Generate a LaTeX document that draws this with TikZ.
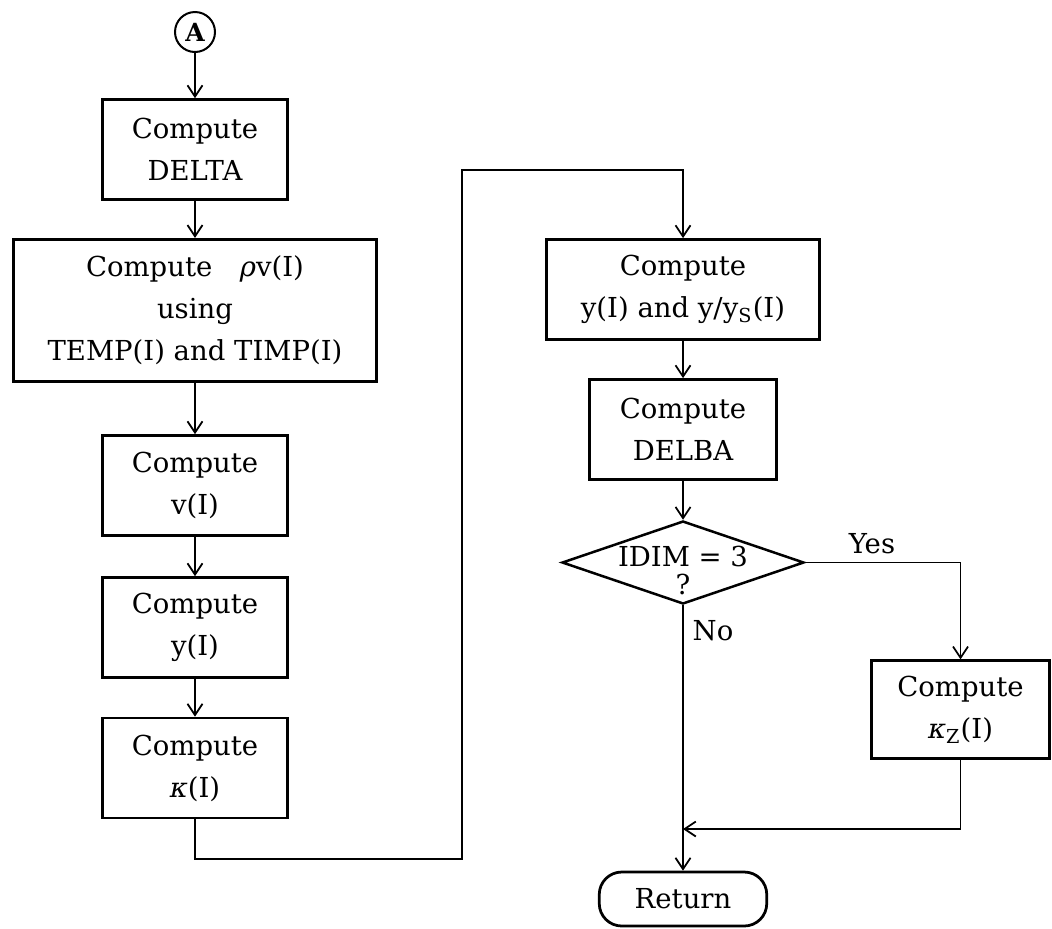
\documentclass[tikz,border=0pt]{standalone}
\usepackage{fontspec}
\setmainfont{DejaVu Serif}
\usepackage{tikz}
\usetikzlibrary{shapes,arrows.meta}

\begin{document}
\begin{tikzpicture}[x=0.4pt, y=-0.4pt,
    every node/.style={font=\fontsize{11pt}{16.8pt}\selectfont},
    box/.style={rectangle, draw, line width=1.1pt, align=center, inner sep=0pt},
    flow/.style={-{Straight Barb[length=4.5pt,width=6pt]}, line width=0.7pt}]
      \useasboundingbox (0,0) rectangle (1052,928);
      % left column
      \node [circle, draw, line width=0.8pt, inner sep=0pt, minimum size=16pt, font=\bfseries] (conA) at (195,32) {A};
      \node [box, minimum width=74pt, minimum height=40pt] (delta) at (195,149.5) {Compute\\DELTA};
      \node [box, minimum width=145pt, minimum height=57pt] (rhov) at (195,310.5) {Compute\quad{\itshape ρ}v(I)\\using\\TEMP(I) and TIMP(I)};
      \node [box, minimum width=74pt, minimum height=40pt] (vel) at (195,485.5) {Compute\\v(I)};
      \node [box, minimum width=74pt, minimum height=40pt] (yval) at (195,627.5) {Compute\\y(I)};
      \node [box, minimum width=74pt, minimum height=40pt] (kap) at (195,768) {Compute\\{\itshape κ}(I)};
      % right column
      \node [box, minimum width=109pt, minimum height=40pt] (yys) at (683,289.5) {Compute\\y(I) and y/y$_{\mathrm{S}}$(I)};
      \node [box, minimum width=75pt, minimum height=40pt] (delba) at (683,429.5) {Compute\\DELBA};
      \node [diamond, draw, line width=1pt, align=center, aspect=2.9,
        inner xsep=0pt, inner ysep=-12.6pt, text height=25.2pt, text depth=0pt,
        minimum width=96.8pt, minimum height=33.2pt,
        font=\fontsize{11pt}{11.2pt}\selectfont] (idim) at (683,562.5) {IDIM = 3\\?};
      \node [box, minimum width=71pt, minimum height=39pt] (kapz) at (960.5,709.5) {Compute\\{\itshape κ}$_{\mathrm{Z}}$(I)};
      \node [box, rounded corners=9pt, minimum width=67pt, minimum height=21.6pt] (ret) at (683,899) {Return};
      \node (yes) at (872,544) {Yes};
      \node (no) at (713,631) {No};
      \coordinate (loopbot) at (462,859);
      \coordinate (looptop) at (462,170);
      \coordinate (merge) at (683,829);
      % connectors
      \draw [flow] (conA) -- (delta);
      \draw [flow] (delta) -- (rhov);
      \draw [flow] (rhov) -- (vel);
      \draw [flow] (vel) -- (yval);
      \draw [flow] (yval) -- (kap);
      \draw [flow] (kap.south) |- (loopbot) -- (looptop) -| (yys.north);
      \draw [flow] (yys) -- (delba);
      \draw [flow] (delba) -- (idim);
      \draw [flow] (idim.east) -| (kapz.north);
      \draw [flow] (kapz.south) |- (merge);
      \draw [flow] (idim.south) -- (ret.north);
    \end{tikzpicture}
\end{document}
